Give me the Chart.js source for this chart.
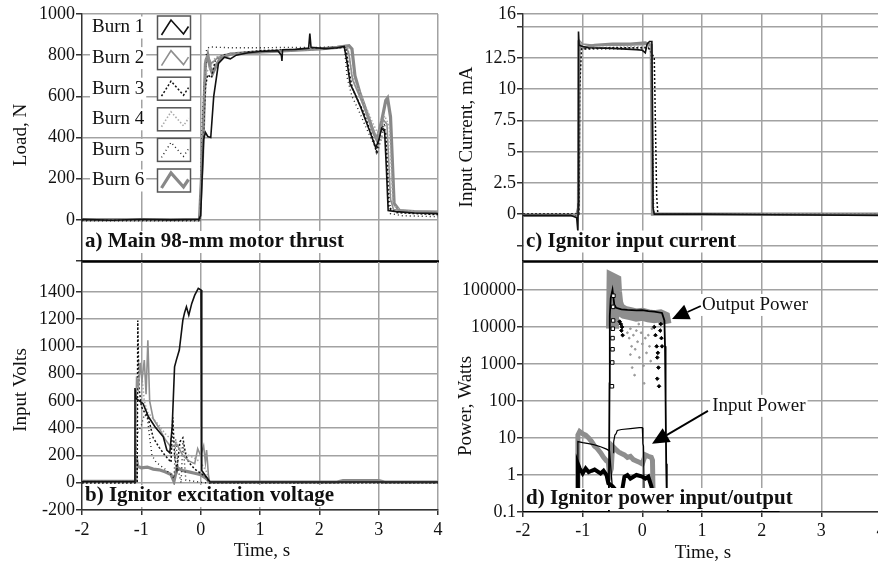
<!DOCTYPE html>
<html>
<head>
<meta charset="utf-8">
<script src="https://cdn.jsdelivr.net/npm/chart.js@4.4.1/dist/chart.umd.min.js"></script>
<style>
  html, body { margin: 0; padding: 0; background: #fff; overflow: hidden; width: 878px; height: 564px; }
  canvas { position: absolute; left: 0; top: 0; }
</style>
</head>
<body>
<canvas id="panelA" width="890" height="564"></canvas>
<canvas id="panelB" width="890" height="564"></canvas>
<canvas id="panelC" width="890" height="564"></canvas>
<canvas id="panelD" width="890" height="564"></canvas>
<script>
// ---- shared axis values ----
const timeTicks = [-2, -1, 0, 1, 2, 3, 4];
const burnNames = ['Burn 1', 'Burn 2', 'Burn 3', 'Burn 4', 'Burn 5', 'Burn 6'];

// ---- a) main motor thrust, N  [time s, load N] ----
const loadTicks = [-200, 0, 200, 400, 600, 800, 1000];
const thrustBurn1 = [[-2,2],[-1.5,-2],[-1,3],[-0.5,0],[-0.03,3],[0,20],[0.05,390],[0.08,425],[0.12,405],[0.17,400],[0.22,600],[0.3,760],[0.4,790],[0.5,782],[0.6,800],[0.8,812],[1,818],[1.3,822],[1.36,800],[1.37,772],[1.38,826],[1.6,828],[1.82,834],[1.84,905],[1.86,838],[2.1,832],[2.3,836],[2.42,842],[2.47,760],[2.52,660],[2.58,625],[2.7,545],[2.85,430],[2.95,350],[3,385],[3.05,445],[3.1,430],[3.13,250],[3.16,45],[3.3,40],[3.6,33],[4,30]];
const thrustBurn2 = [[-2,5],[-1,4],[-0.02,5],[0.02,300],[0.08,780],[0.12,795],[0.18,760],[0.3,790],[0.5,805],[1,815],[1.5,822],[2,830],[2.45,846],[2.5,805],[2.56,680],[2.7,585],[2.9,445],[2.98,385],[3.08,485],[3.14,465],[3.2,100],[3.25,50],[3.5,42],[4,36]];
const thrustBurn3 = [[-2,0],[-0.02,0],[0.02,250],[0.08,650],[0.12,705],[0.18,690],[0.25,780],[0.4,802],[1,822],[1.5,826],[2,832],[2.45,838],[2.5,720],[2.56,635],[2.75,520],[2.92,380],[2.96,330],[3.06,460],[3.12,420],[3.17,60],[3.3,35],[4,25]];
const thrustBurn4 = [[-2,5],[-0.01,5],[0.04,400],[0.1,720],[0.15,735],[0.25,790],[0.5,810],[1,818],[2,828],[2.48,842],[2.55,700],[2.7,605],[2.9,470],[3,412],[3.1,505],[3.18,455],[3.24,70],[3.4,45],[4,40]];
const thrustBurn5 = [[-2,-5],[-0.01,-5],[0.03,500],[0.1,830],[0.15,840],[0.5,836],[1,836],[1.5,838],[2,838],[2.42,842],[2.47,690],[2.55,600],[2.65,540],[2.8,440],[2.9,380],[2.98,330],[3.05,400],[3.1,470],[3.15,300],[3.2,30],[3.4,20],[4,15]];
const thrustBurn6 = [[-2,0],[-0.02,0],[0.03,300],[0.08,760],[0.12,800],[0.16,740],[0.2,710],[0.28,760],[0.35,790],[0.5,805],[0.8,812],[1.2,818],[1.6,824],[2,830],[2.3,838],[2.5,846],[2.55,830],[2.6,700],[2.68,620],[2.8,520],[2.92,420],[2.97,390],[3.05,480],[3.12,580],[3.15,592],[3.2,500],[3.26,80],[3.35,45],[3.6,40],[4,38]];

// ---- b) ignitor excitation voltage, V ----
const voltTicks = [-200, 0, 200, 400, 600, 800, 1000, 1200, 1400];
const voltsBurn1 = [[-2,8],[-1.5,8],[-1.12,8],[-1.107,695],[-1.09,620],[-1.0,590],[-0.97,580],[-0.88,484],[-0.77,411],[-0.63,337],[-0.57,240],[-0.52,220],[-0.48,411],[-0.44,851],[-0.41,900],[-0.36,974],[-0.3,1194],[-0.27,1250],[-0.24,1291],[-0.2,1230],[-0.15,1316],[-0.1,1377],[-0.04,1426],[0.006,1414],[0.017,1377],[0.02,90],[0.1,40],[0.157,5],[0.3,5],[4,5]];
const voltsBurn2 = [[-2,10],[-1.11,10],[-1.1,300],[-1.08,780],[-1.05,700],[-1.02,880],[-0.99,750],[-0.95,900],[-0.92,650],[-0.89,1046],[-0.86,600],[-0.8,470],[-0.7,400],[-0.6,320],[-0.5,260],[-0.4,280],[-0.3,200],[-0.2,160],[-0.1,140],[-0.05,250],[0,200],[0.05,270],[0.08,150],[0.1,240],[0.13,60],[0.15,5],[4,5]];
const voltsBurn3 = [[-2,0],[-1.07,0],[-1.06,1190],[-1.04,700],[-1.0,560],[-0.95,520],[-0.9,490],[-0.85,420],[-0.8,330],[-0.7,260],[-0.6,200],[-0.5,150],[-0.47,480],[-0.44,200],[-0.4,100],[-0.35,300],[-0.3,330],[-0.25,200],[-0.2,150],[-0.1,100],[0,70],[0.1,40],[0.15,0],[4,0]];
const voltsBurn4 = [[-2,10],[-1.1,10],[-1.08,400],[-1.05,900],[-1.0,820],[-0.95,600],[-0.9,520],[-0.8,470],[-0.7,420],[-0.6,360],[-0.5,320],[-0.4,290],[-0.3,240],[-0.2,200],[-0.1,180],[0,150],[0.1,80],[0.15,0],[4,0]];
const voltsBurn5 = [[-2,0],[-1.1,0],[-1.08,350],[-1.0,420],[-0.95,500],[-0.9,480],[-0.85,300],[-0.82,200],[-0.75,150],[-0.6,100],[-0.5,60],[-0.45,30],[-0.42,320],[-0.38,100],[-0.33,0],[-0.3,300],[-0.25,20],[-0.1,10],[0.05,0],[4,0]];
const voltsBurn6 = [[-2,10],[-1.1,10],[-1.09,200],[-1.06,120],[-1.0,110],[-0.9,115],[-0.8,100],[-0.7,95],[-0.6,80],[-0.5,60],[-0.45,10],[-0.4,110],[-0.3,90],[-0.2,80],[-0.1,70],[0,60],[0.1,30],[0.15,5],[2.3,5],[2.4,15],[3,15],[3.1,5],[4,5]];

// ---- c) ignitor input current, mA ----
const currentTicks = [-2.5, 0, 2.5, 5, 7.5, 10, 12.5, 15, 16];
const currentLabels = [0, 2.5, 5, 7.5, 10, 12.5, 16];
const currentBurn1 = [[-2,-0.1],[-1.2,-0.1],[-1.1,-0.3],[-1.08,-1.4],[-1.075,0.8],[-1.07,14.6],[-1.06,13.5],[-1,13.4],[-0.9,13.3],[-0.5,13.25],[-0.1,13.15],[0,13.1],[0.05,12.9],[0.08,13.6],[0.12,13.8],[0.16,13.8],[0.18,0.5],[0.2,0],[1,0],[2.2,-0.05],[4,-0.1]];
const currentBurn2 = [[-2,-0.05],[-1.07,-0.05],[-1.06,13.9],[-1,13.6],[-0.8,13.5],[-0.4,13.5],[0,13.55],[0.1,13.6],[0.15,13.5],[0.17,0.2],[0.2,0],[4,0]];
const currentBurn3 = [[-2,0],[-1.06,0],[-1.05,10],[-1.02,13.2],[-0.5,13.3],[0.1,13.3],[0.2,12.5],[0.22,7],[0.24,1.5],[0.26,0],[4,0]];
const currentBurn4 = [[-2,0],[-1.07,0],[-1.06,13.3],[0.15,13.4],[0.17,0],[4,0]];
const currentBurn5 = [[-2,-0.1],[-1.07,-0.1],[-1.06,13.2],[0.15,13.2],[0.19,0],[4,-0.05]];
const currentBurn6 = [[-2,-0.1],[-1.1,-0.1],[-1.07,0.5],[-1.06,13.6],[-1,13.3],[-0.8,13.5],[-0.5,13.6],[-0.2,13.6],[0.05,13.7],[0.15,13.5],[0.17,0],[4,0]];

// ---- d) ignitor power input/output, W (log) ----
const powerTicks = [0.1, 1, 10, 100, 1000, 10000, 100000];
const outputPowerBand = [[-0.5,9000],[-0.49,190000],[-0.46,180000],[-0.45,90000],[-0.43,45000],[-0.4,32000],[-0.35,28000],[-0.3,25000],[-0.2,23000],[-0.1,21000],[0,22000],[0.1,20000],[0.2,19000],[0.3,20000],[0.36,18000],[0.38,12000]];
const outputPowerEdge = [[-2,0.1],[-0.57,0.1],[-0.56,0.4],[-0.55,300],[-0.545,20000],[-0.53,60000],[-0.5,100000],[-0.47,40000],[-0.44,33000],[-0.35,30000],[-0.25,29000],[-0.1,28000],[0,28500],[0.1,27000],[0.2,26000],[0.33,24000],[0.37,15000],[0.38,3000],[0.39,100],[0.4,2],[0.41,0.25],[0.43,0.1],[2.3,0.1]];
const outputPowerSquares = [[-0.51,250],[-0.505,1100],[-0.5,2500],[-0.5,5000],[-0.495,9000],[-0.49,15000],[-0.49,35000],[-0.485,70000]];
const outputPowerMarks = [[-0.38,14000],[-0.36,12000],[-0.35,8000],[-0.34,10000],[-0.33,6000],[0.2,10000],[0.22,6000],[0.24,3000],[0.25,1500],[0.26,2000],[0.27,800],[0.25,400],[0.28,250],[0.3,8000],[0.31,12000],[0.32,5000],[0.33,3000]];
const outputPowerSpray = [[-0.25,7000],[-0.22,5000],[-0.2,9000],[-0.18,3000],[-0.15,6000],[-0.12,2500],[-0.1,8000],[-0.08,4000],[-0.05,1500],[-0.02,7000],[0,3500],[0.02,900],[0.05,5000],[0.07,2000],[0.1,6000],[0.12,3000],[-0.2,1800],[-0.13,500],[-0.17,800],[0.03,300],[0.14,1200],[-0.06,12000],[0.16,9000]];
const inputPowerGray = [[-1.09,0.3],[-1.08,12],[-1.05,15],[-1,13],[-0.95,12],[-0.9,10],[-0.85,8],[-0.8,6],[-0.76,5.3],[-0.7,4],[-0.65,3],[-0.6,2.4],[-0.57,2.3],[-0.55,1],[-0.52,1.5],[-0.5,6],[-0.45,5],[-0.4,4.2],[-0.35,3.8],[-0.3,3.5],[-0.25,3],[-0.2,3.2],[-0.15,2.6],[-0.1,2.4],[-0.05,2.2],[0,2],[0.05,3.5],[0.1,3.2],[0.15,3],[0.17,2.5],[0.18,0.3]];
const inputPowerBlack = [[-1.09,0.3],[-1.08,2],[-1.05,1.5],[-1,1.1],[-0.95,1.5],[-0.9,1.2],[-0.85,1.3],[-0.8,1.4],[-0.7,1.1],[-0.65,1.3],[-0.6,1],[-0.57,0.6],[-0.5,0.5],[-0.45,0.4],[-0.4,0.35],[-0.35,0.3],[-0.3,0.9],[-0.25,1],[-0.2,0.8],[-0.1,1],[0,0.9],[0.05,0.8],[0.1,0.9],[0.15,0.5],[0.18,0.3]];
const inputPowerTrace = [[-1.09,0.3],[-1.08,8],[-1,7.5],[-0.9,7],[-0.8,6.5],[-0.7,5.8],[-0.6,5],[-0.55,4.5],[-0.5,0.4]];
const inputPowerStep = [[-0.49,4],[-0.48,8],[-0.46,12],[-0.44,13],[-0.42,16],[-0.35,17],[-0.2,18],[-0.05,19],[0,19],[0.01,7],[0.02,6],[0.03,0.3]];

// ---- drawing helpers ----
const SERIF = '"Liberation Serif", "Times New Roman", serif';
const GRID = '#a2a2a2';
const AXIS = '#333';
const pts = rows => rows.map(([x, y]) => ({ x, y }));

const burnStyles = [
  { color: '#111111', width: 1.6, dash: [] },
  { color: '#8f8f8f', width: 1.6, dash: [] },
  { color: '#111111', width: 1.5, dash: [2, 2] },
  { color: '#a8a8a8', width: 1.6, dash: [1.5, 2] },
  { color: '#222222', width: 1.4, dash: [1, 3] },
  { color: '#888888', width: 3.2, dash: [] }
];

function burnSets(series) {
  return series.map((rows, i) => ({
    label: burnNames[i],
    data: pts(rows),
    borderColor: burnStyles[i].color,
    borderWidth: burnStyles[i].width,
    borderDash: burnStyles[i].dash,
    pointRadius: 0,
    tension: 0,
    fill: false
  }));
}

function timeScale(showLabels, pad, height) {
  return {
    type: 'linear', min: -2, max: 4,
    afterBuildTicks: s => { s.ticks = timeTicks.map(v => ({ value: v })); },
    ticks: { display: showLabels, font: { family: SERIF, size: 18 }, color: '#111', padding: pad, maxRotation: 0, autoSkip: false, callback: v => String(v) },
    grid: { color: c => (c.tick && c.tick.value === -2 ? 'rgba(0,0,0,0)' : GRID), lineWidth: 1.5, drawTicks: showLabels, tickLength: 5, tickColor: AXIS, tickWidth: 1.5 },
    border: { display: showLabels, color: AXIS, width: 1.5 },
    afterFit: s => { s.height = height; s.paddingLeft = 0; s.paddingRight = 0; }
  };
}

function valueScale(extra, tickValues, labelled) {
  return Object.assign({
    afterBuildTicks: s => { s.ticks = tickValues.map(v => ({ value: v })); },
    ticks: { font: { family: SERIF, size: 18 }, color: '#111', padding: 1, autoSkip: false,
      callback: v => (labelled.includes(v) ? String(v) : '') },
    grid: { color: GRID, lineWidth: 1.5, tickLength: 6, tickColor: AXIS, tickWidth: 1.5 },
    border: { color: AXIS, width: 1.5 },
    afterFit: s => { s.width = 82; s.paddingTop = 0; s.paddingBottom = 0; }
  }, extra);
}

function vText(ctx, text, x, y) {
  ctx.save();
  ctx.translate(x, y);
  ctx.rotate(-Math.PI / 2);
  ctx.textAlign = 'center';
  ctx.textBaseline = 'middle';
  ctx.fillText(text, 0, 0);
  ctx.restore();
}

function boxedText(ctx, text, x, y, font) {
  ctx.font = font;
  const w = ctx.measureText(text).width;
  ctx.fillStyle = '#fff';
  ctx.fillRect(x - 2, y - 11, w + 4, 22);
  ctx.fillStyle = '#111';
  ctx.textAlign = 'left';
  ctx.textBaseline = 'middle';
  ctx.fillText(text, x, y);
}

// titles, panel captions, legend and callouts
const decor = {
  id: 'decor',
  afterDatasetsDraw(chart, args, o) {
    const { ctx, chartArea: ca, scales } = chart;
    ctx.save();
    ctx.fillStyle = '#111';
    ctx.font = '19px ' + SERIF;
    if (o.yTitle) vText(ctx, o.yTitle.text, o.yTitle.x, o.yTitle.y);
    if (o.xTitle) {
      ctx.textAlign = 'center';
      ctx.textBaseline = 'middle';
      ctx.fillText(o.xTitle.text, o.xTitle.x, o.xTitle.y);
    }
    if (o.rule) {
      ctx.strokeStyle = '#000';
      ctx.lineWidth = 2.5;
      ctx.beginPath();
      ctx.moveTo(ca.left - 1, ca.bottom + 0.5);
      ctx.lineTo(ca.right + 1, ca.bottom + 0.5);
      ctx.stroke();
    }
    if (o.legend) {
      chart.data.datasets.forEach((ds, i) => {
        const cy = 27.5 + i * 30.6;
        boxedText(ctx, ds.label, 92, cy, '19px ' + SERIF);
        const bx = 157.5, by = cy - 11.5, bw = 33, bh = 23;
        ctx.fillStyle = '#fff';
        ctx.fillRect(bx, by, bw, bh);
        ctx.strokeStyle = '#555';
        ctx.lineWidth = 1.5;
        ctx.setLineDash([]);
        ctx.strokeRect(bx, by, bw, bh);
        ctx.strokeStyle = ds.borderColor;
        ctx.lineWidth = ds.borderWidth;
        ctx.setLineDash(ds.borderDash || []);
        ctx.beginPath();
        ctx.moveTo(bx + 4, by + 19);
        ctx.lineTo(bx + 13.5, by + 4);
        ctx.lineTo(bx + 26, by + 18);
        ctx.lineTo(bx + 31, by + 10.5);
        ctx.stroke();
        ctx.setLineDash([]);
      });
    }
    if (o.notes) {
      const xs = scales.x, ys = scales.y;
      o.notes.forEach(n => {
        const tx = xs.getPixelForValue(n.at[0]), ty = ys.getPixelForValue(n.at[1]);
        const fx = xs.getPixelForValue(n.from[0]), fy = ys.getPixelForValue(n.from[1]);
        const px = xs.getPixelForValue(n.tip[0]), py = ys.getPixelForValue(n.tip[1]);
        boxedText(ctx, n.text, tx, ty, '19px ' + SERIF);
        const dx = px - fx, dy = py - fy, len = Math.hypot(dx, dy);
        const ux = dx / len, uy = dy / len, hl = 17, hw = 8;
        const bxp = px - ux * hl, byp = py - uy * hl;
        ctx.strokeStyle = '#000';
        ctx.lineWidth = 1.8;
        ctx.beginPath();
        ctx.moveTo(fx, fy);
        ctx.lineTo(bxp, byp);
        ctx.stroke();
        ctx.fillStyle = '#000';
        ctx.beginPath();
        ctx.moveTo(px, py);
        ctx.lineTo(bxp - uy * hw, byp + ux * hw);
        ctx.lineTo(bxp + uy * hw, byp - ux * hw);
        ctx.closePath();
        ctx.fill();
      });
    }
    if (o.caption) boxedText(ctx, o.caption, ca.left + 3, ca.bottom - o.captionLift, 'bold 21px ' + SERIF);
    ctx.restore();
  }
};

function makeChart(id, datasets, scales, padding, decorOpts) {
  return new Chart(document.getElementById(id), {
    type: 'line',
    data: { datasets },
    options: {
      responsive: false,
      animation: false,
      events: [],
      layout: { padding },
      scales,
      plugins: { legend: { display: false }, tooltip: { enabled: false }, decor: decorOpts }
    },
    plugins: [decor]
  });
}

// a) Main 98-mm motor thrust
makeChart('panelA',
  burnSets([thrustBurn1, thrustBurn2, thrustBurn3, thrustBurn4, thrustBurn5, thrustBurn6]),
  { x: timeScale(false, 0, 0), y: valueScale({ type: 'linear', min: -200, max: 1000 }, loadTicks, [0, 200, 400, 600, 800, 1000]) },
  { left: 0, top: 14, right: 452, bottom: 303 },
  { yTitle: { text: 'Load, N', x: 21, y: 135 }, legend: true, rule: true, caption: 'a) Main 98-mm motor thrust', captionLift: 19 });

// b) Ignitor excitation voltage
makeChart('panelB',
  burnSets([voltsBurn1, voltsBurn2, voltsBurn3, voltsBurn4, voltsBurn5, voltsBurn6]),
  { x: timeScale(true, 4, 54), y: valueScale({ type: 'linear', min: -200, max: 1620 }, voltTicks, voltTicks) },
  { left: 0, top: 262, right: 452, bottom: 0 },
  { yTitle: { text: 'Input Volts', x: 21, y: 390 }, xTitle: { text: 'Time, s', x: 262, y: 551 }, caption: 'b) Ignitor excitation voltage', captionLift: 14 });

// c) Ignitor input current
makeChart('panelC',
  burnSets([currentBurn1, currentBurn2, currentBurn3, currentBurn4, currentBurn5, currentBurn6]),
  { x: timeScale(false, 0, 0), y: valueScale({ type: 'linear', min: -3.75, max: 16 }, currentTicks, currentLabels) },
  { left: 441, top: 14, right: 9, bottom: 303 },
  { yTitle: { text: 'Input Current, mA', x: 467, y: 137 }, rule: true, caption: 'c) Ignitor input current', captionLift: 19.5 });

// d) Ignitor power input/output
const line = (rows, color, width) => ({ data: pts(rows), borderColor: color, borderWidth: width, pointRadius: 0, tension: 0, fill: false });
const dots = (rows, style, radius, fillColor, edgeColor) => ({ data: pts(rows), showLine: false, pointStyle: style, pointRadius: radius, backgroundColor: fillColor, borderColor: edgeColor, borderWidth: 1 });
makeChart('panelD',
  [
    dots(outputPowerSquares, 'rect', 2.5, '#fff', '#000'),
    dots(outputPowerMarks, 'rectRot', 1.8, '#000', '#000'),
    line(outputPowerEdge, '#000', 1.8),
    line(inputPowerStep, '#000', 1.2),
    line(inputPowerTrace, '#000', 1.3),
    line(inputPowerBlack, '#000', 4),
    line(inputPowerGray, '#8e8e8e', 5),
    dots(outputPowerSpray, 'circle', 0.9, '#999', '#999'),
    line(outputPowerBand, '#8e8e8e', 13)
  ],
  { x: timeScale(true, 3, 52), y: valueScale({ type: 'logarithmic', min: 0.1, max: 571000 }, powerTicks, powerTicks) },
  { left: 441, top: 262, right: 9, bottom: 0 },
  {
    yTitle: { text: 'Power, Watts', x: 466, y: 406 },
    xTitle: { text: 'Time, s', x: 703, y: 553 },
    caption: 'd) Ignitor power input/output', captionLift: 13,
    notes: [
      { text: 'Output Power', at: [1.0, 39400], from: [0.98, 37000], tip: [0.497, 16500] },
      { text: 'Input Power', at: [1.17, 74], from: [1.1, 54], tip: [0.162, 7.0] }
    ]
  });
</script>
</body>
</html>
